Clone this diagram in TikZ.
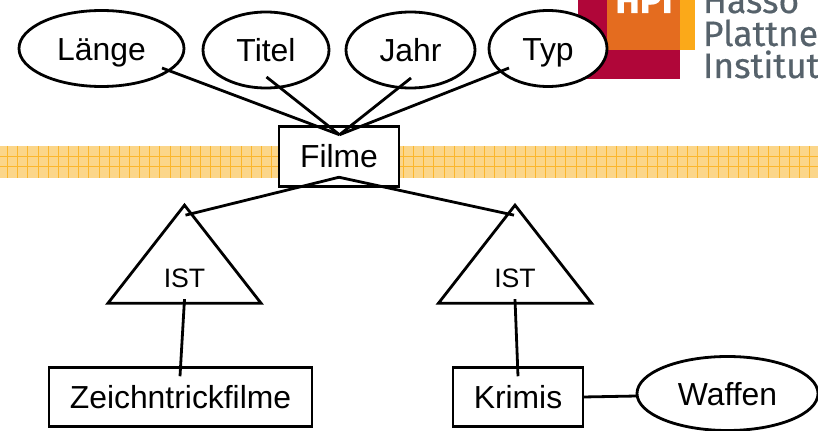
\documentclass[tikz,border=0pt]{standalone}
\usepackage{fontspec}
\setmainfont{Liberation Sans}
\newfontfamily\logofont[FakeBold=0.5]{Fira Sans}
\usetikzlibrary{positioning,calc,shapes.geometric}
\newlength{\pixel}
\setlength{\pixel}{0.75pt}
\definecolor{bandfill}{HTML}{FBD68A}
\definecolor{bandline}{HTML}{FBB62C}
\definecolor{hpired}{HTML}{B00639}
\definecolor{hpiorange}{HTML}{E46C1F}
\definecolor{hpiyellow}{HTML}{FBA919}
\definecolor{hpigrey}{HTML}{56626B}

\begin{document}
\begin{tikzpicture}[x=\pixel,y=-\pixel]

\tikzset{every node/.style = {font=\fontsize{23.9pt}{27pt}\selectfont, inner sep=0pt, outer sep=0pt}}
\tikzstyle{entity} = [rectangle, draw, fill=white, line width=2.8\pixel, minimum height=59.5\pixel, text height=22.5\pixel, text depth=0pt]
\tikzstyle{attrib} = [ellipse, draw, fill=white, line width=2.8\pixel, minimum height=76\pixel, text height=23.5\pixel, text depth=0pt]
\tikzstyle{isa}    = [isosceles triangle, isosceles triangle stretches, shape border rotate=90, draw, fill=white,
                      line width=2.8\pixel, minimum width=153\pixel, minimum height=98\pixel,
                      text height=29\pixel, text depth=0pt, font=\fontsize{20pt}{22pt}\selectfont]
\tikzstyle{link}   = [line width=2.8\pixel]
\tikzstyle{logotext} = [anchor=base west, text=hpigrey, font=\logofont\fontsize{26.5pt}{30pt}\selectfont]

\useasboundingbox (0,0) rectangle (818,431);
\clip (0,0) rectangle (818,431);

% band
\fill[bandfill] (0,146) rectangle (818,178);
\foreach \i in {0,...,80} {
  \draw[bandline, line width=0.7\pixel] ({7.5+10.15*\i},146) -- ({7.5+10.15*\i},178);
}
\foreach \j in {156,166} {
  \draw[bandline, line width=0.7\pixel] (0,\j) -- (818,\j);
}

% logo
\fill[hpired]    (578,0) rectangle (680,79);
\fill[hpiorange] (607,0) rectangle (680,50);
\fill[hpiyellow] (680,0) rectangle (695,50);
\node[anchor=base, text=white, font=\logofont\bfseries\fontsize{27.5pt}{30pt}\selectfont] (hpi) at (644,13) {HPI};
\node[logotext] (hasso)    at (703,13) {Hasso};
\node[logotext] (plattner) at (703,46) {Plattner};
\node[logotext] (institut) at (703,78) {Institut};

\node[attrib, minimum width=165\pixel] (laenge) at (101.5,48.5)                    {Länge};
\node[attrib, minimum width=126\pixel] (titel)  [right=19\pixel of laenge, yshift=-1.5\pixel] {Titel};
\node[attrib, minimum width=129\pixel] (jahr)   [right=17\pixel of titel]          {Jahr};
\node[attrib, minimum width=118\pixel] (typ)    [right=14\pixel of jahr, yshift=1.5\pixel] {Typ};
\node[entity, minimum width=120\pixel] (filme)  at (339,156.5)                     {Filme};
\node[isa]                             (ist_z)  at (184.5,272.5)                   {IST};
\node[isa]                             (ist_k)  at (515,272.5)                     {IST};
\node[entity, minimum width=263\pixel] (zeichen) at (180.5,397)                    {Zeichntrickfilme};
\node[entity, minimum width=130\pixel] (krimis) [right=141\pixel of zeichen]       {Krimis};
\node[attrib, minimum width=181\pixel, minimum height=74\pixel] (waffen) [right=54\pixel of krimis, yshift=3.5\pixel] {Waffen};

\coordinate (filme_top)  at ($(filme.north) + (0.5,8)$);
\coordinate (filme_bot)  at ($(filme.south) + (0,-9)$);
\coordinate (laenge_end) at ($(laenge.center) + (60.5,19.5)$);
\coordinate (titel_end)  at ($(titel.center) + (0.5,27)$);
\coordinate (jahr_end)   at ($(jahr.center) + (0.5,28)$);
\coordinate (typ_end)    at ($(typ.center) + (-39,19.5)$);
\coordinate (ist_z_top)  at ($(ist_z.north) + (1,10)$);
\coordinate (ist_k_top)  at ($(ist_k.north) + (-1,10)$);
\coordinate (ist_z_bot)  at ($(ist_z.south) + (0,-4)$);
\coordinate (ist_k_bot)  at ($(ist_k.south) + (0,-4)$);
\coordinate (zeichen_top) at ($(zeichen.north) + (-0.5,9)$);
\coordinate (krimis_top) at ($(krimis.north) + (0,9)$);
\coordinate (waffen_in)  at ($(waffen.west) + (0,2.5)$);

\draw[link] (laenge_end) -- (filme_top);
\draw[link] (titel_end)  -- (filme_top);
\draw[link] (jahr_end)   -- (filme_top);
\draw[link] (typ_end)    -- (filme_top);
\draw[link] (filme_bot)  -- (ist_z_top);
\draw[link] (filme_bot)  -- (ist_k_top);
\draw[link] (ist_z_bot)  -- (zeichen_top);
\draw[link] (ist_k_bot)  -- (krimis_top);
\draw[link] (krimis.east) -- (waffen_in);

\end{tikzpicture}
\end{document}
